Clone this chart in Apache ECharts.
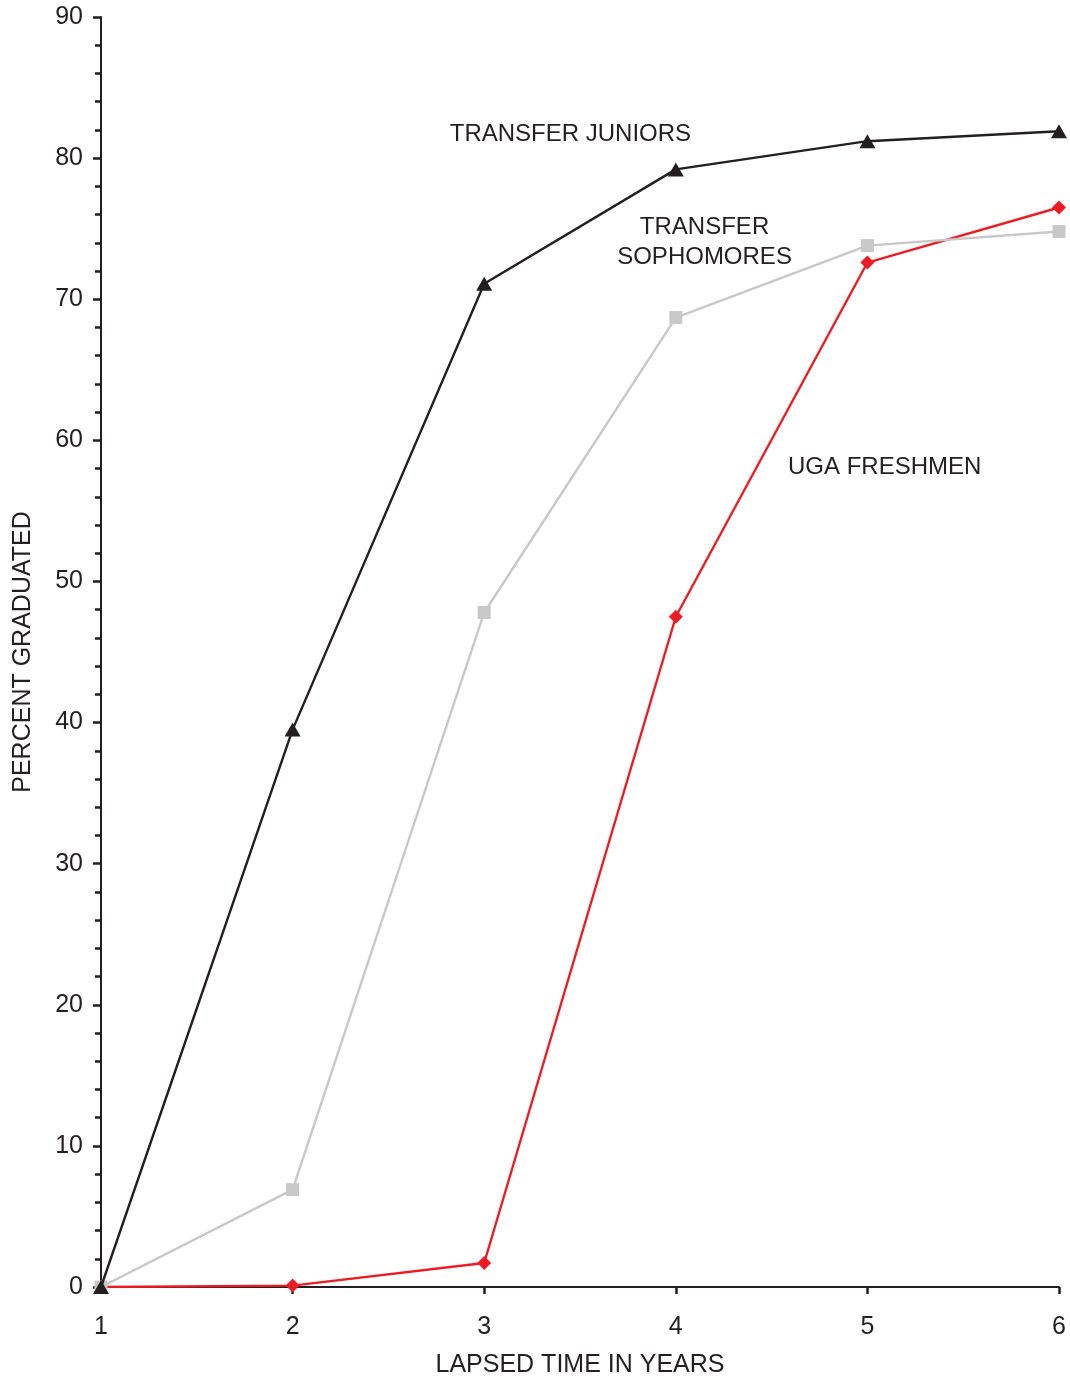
<!DOCTYPE html>
<html>
<head>
<meta charset="utf-8">
<script src="https://cdn.jsdelivr.net/npm/echarts@6/dist/echarts.min.js"></script>
<style>
html,body{margin:0;padding:0;background:#fff;}
#chart{width:1070px;height:1379px;}
</style>
</head>
<body>
<div id="chart"></div>
<script>
var years = [1, 2, 3, 4, 5, 6];
var juniors = [0, 39.5, 71.1, 79.2, 81.2, 81.9];
var sophomores = [0, 6.9, 47.8, 68.7, 73.8, 74.8];
var freshmen = [0, 0.1, 1.7, 47.5, 72.6, 76.5];
var seriesNames = ['TRANSFER JUNIORS', 'TRANSFER\nSOPHOMORES', 'UGA FRESHMEN'];
var labelPositions = [[3.45, 81.65], [4.15, 74.0], [5.09, 58.05]];
var yTicks = [0, 10, 20, 30, 40, 50, 60, 70, 80, 90];

var FONT = 'Liberation Sans';
var INK = '#231f20';
var FS = 25;
var FS_NOTE = 24;

function pairs(vals) { return years.map(function (x, i) { return [x, vals[i]]; }); }

function makeSeries(vals, color, symbol, size, idx) {
  return {
    type: 'line',
    data: pairs(vals),
    symbol: symbol,
    symbolSize: size,
    lineStyle: { color: color, width: 2.4 },
    itemStyle: { color: color },
    z: 3 - idx,
    animation: false,
    markPoint: {
      symbol: 'circle',
      symbolSize: 1,
      silent: true,
      itemStyle: { color: 'rgba(0,0,0,0)' },
      data: [{ coord: labelPositions[idx] }],
      label: {
        show: true,
        position: 'inside',
        formatter: seriesNames[idx],
        fontFamily: FONT,
        fontSize: FS_NOTE,
        color: INK,
        lineHeight: 30,
        align: 'center',
        verticalAlign: 'middle'
      }
    }
  };
}

var chart = echarts.init(document.getElementById('chart'), null, { renderer: 'canvas' });
chart.setOption({
  backgroundColor: '#fff',
  animation: false,
  grid: { left: 101, right: 11, top: 17, bottom: 92, containLabel: false, outerBoundsMode: 'none' },
  xAxis: {
    type: 'value', min: 1, max: 6, interval: 1,
    name: 'LAPSED TIME IN YEARS', nameLocation: 'middle', nameGap: 66,
    nameTextStyle: { fontFamily: FONT, fontSize: FS, color: INK },
    axisLine: { show: true, lineStyle: { color: INK, width: 2 } },
    axisTick: { show: true, inside: false, length: 7, lineStyle: { color: INK, width: 2.5 } },
    axisLabel: { fontFamily: FONT, fontSize: FS, color: INK, margin: 28 },
    splitLine: { show: false }
  },
  yAxis: {
    type: 'value', min: 0, max: 90, interval: 10,
    name: 'PERCENT GRADUATED', nameLocation: 'middle', nameGap: 65, nameRotate: 90,
    nameTextStyle: { fontFamily: FONT, fontSize: FS, color: INK },
    axisLine: { show: true, onZero: false, lineStyle: { color: INK, width: 2 } },
    axisTick: { show: true, inside: false, length: 8, lineStyle: { color: INK, width: 2.5 } },
    minorTick: { show: true, splitNumber: 5, length: 6, lineStyle: { color: INK, width: 2.5 } },
    axisLabel: { fontFamily: FONT, fontSize: FS, color: INK, margin: 18,
      formatter: function (v) { return yTicks.indexOf(v) >= 0 ? String(v) : ''; } },
    splitLine: { show: false }
  },
  series: [
    makeSeries(juniors, INK, 'triangle', [16, 14], 0),
    makeSeries(sophomores, '#c8c8c8', 'rect', 13, 1),
    makeSeries(freshmen, '#ec1c24', 'diamond', 14, 2)
  ]
});
</script>
</body>
</html>
